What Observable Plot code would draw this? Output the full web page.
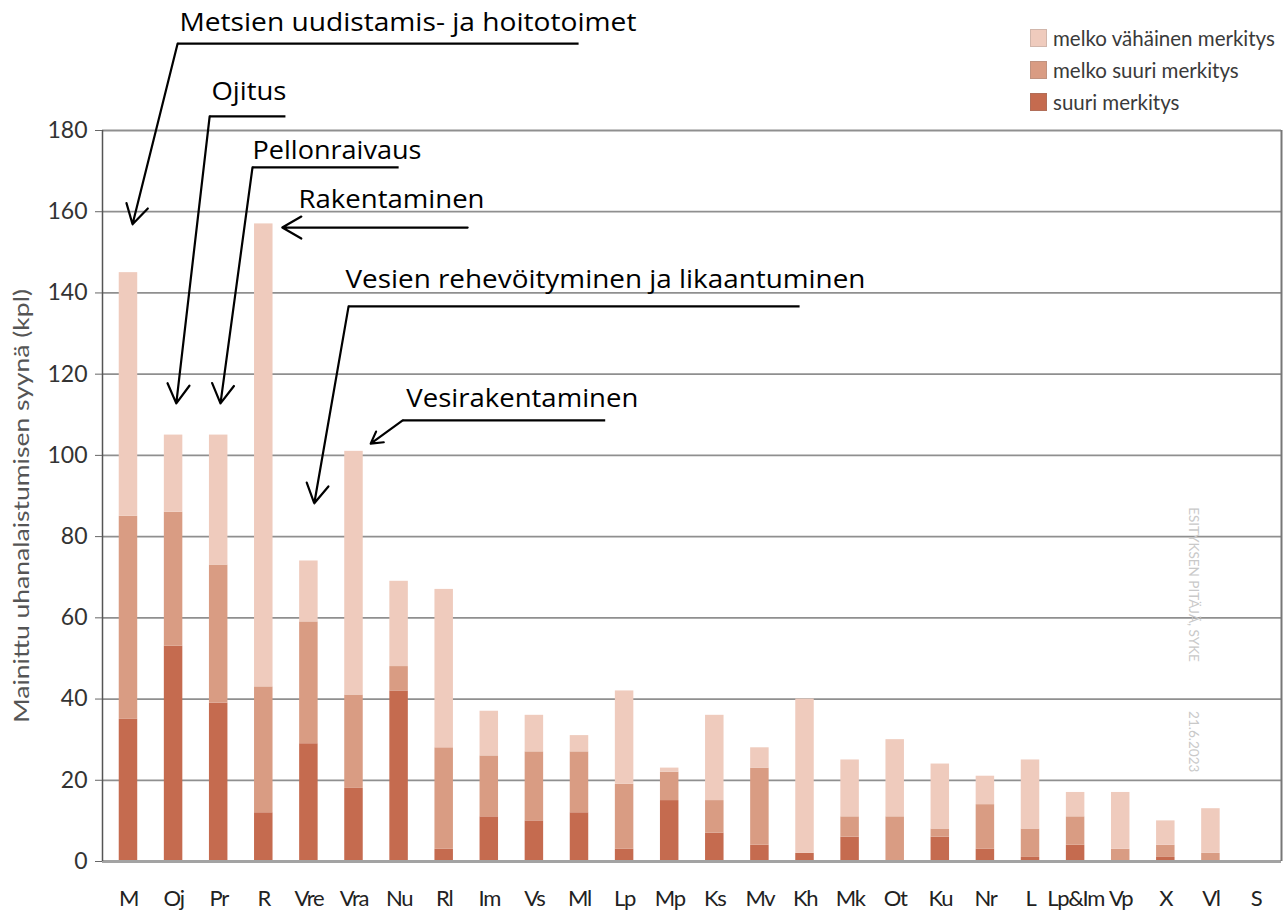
<!DOCTYPE html>
<html>
<head>
<meta charset="utf-8">
<script src="https://cdn.jsdelivr.net/npm/d3@7"></script>
<script src="https://cdn.jsdelivr.net/npm/@observablehq/plot@0.6"></script>
<style>
  body { margin: 0; background: #fff; }
  #wrap { position: relative; width: 1284px; height: 916px; overflow: hidden; }
  #legend { position: absolute; left: 1030px; top: 22px; font-family: Lato, "Open Sans", sans-serif; font-size: 20.5px; color: #3a3a3a; }
  #legend .item { display: flex; align-items: center; height: 32px; }
  #legend .sw { width: 17px; height: 18px; margin-right: 6px; box-sizing: border-box; border: 1px solid rgba(120,120,120,0.25); }
</style>
</head>
<body>
<div id="wrap"><div id="legend"></div></div>
<script>
// ---- data ----
const categories = ["M","Oj","Pr","R","Vre","Vra","Nu","Rl","Im","Vs","Ml","Lp","Mp","Ks","Mv","Kh","Mk","Ot","Ku","Nr","L","Lp&Im","Vp","X","Vl","S"];
const seriesNames = ["suuri merkitys", "melko suuri merkitys", "melko vähäinen merkitys"];
const suuri        = [35,53,39,12,29,18,42, 3,11,10,12, 3,15, 7, 4, 2, 6, 0, 6, 3, 1, 4, 0, 1, 0, 0];
const melkoSuuri   = [50,33,34,31,30,23, 6,25,15,17,15,16, 7, 8,19, 0, 5,11, 2,11, 7, 7, 3, 3, 2, 0];
const melkoVahainen= [60,19,32,114,15,60,21,39,11, 9, 4,23, 1,21, 5,38,14,19,16, 7,17, 6,14, 6,11, 0];
const yTicks = [0,20,40,60,80,100,120,140,160,180];
const legendOrder = ["melko vähäinen merkitys", "melko suuri merkitys", "suuri merkitys"];
const yLabel = "Mainittu uhanalaistumisen syynä (kpl)";
const annotationLabels = ["Metsien uudistamis- ja hoitotoimet","Ojitus","Pellonraivaus","Rakentaminen","Vesien rehevöityminen ja likaantuminen","Vesirakentaminen"];
const watermark = ["ESITYKSEN PITÄJÄ, SYKE", "21.6.2023"];

// ---- styles / layout ----
const colors = ["#c56b4f", "#d99c83", "#efcbbd"];
const xDomain = [-0.576, 25.565];
const half = 0.205;

const seriesValues = [suuri, melkoSuuri, melkoVahainen];
const rows = [];
categories.forEach((c, i) => {
  let acc = 0;
  seriesValues.forEach((vals, s) => {
    const v = vals[i];
    rows.push({cat: c, i, series: seriesNames[s], y1: acc, y2: acc + v});
    acc += v;
  });
});

// annotation layout (index units on x, value units on y)
const annLayout = [
  {t: [1.13, 204.6], w: 457, line: [1.09, 9.98, 201.4], tip: [0.09, 156.9]},
  {t: [1.84, 187.6], w: 75,  line: [1.80, 3.48, 183.5], tip: [1.06, 112.8]},
  {t: [2.75, 173.1], w: 169, line: [2.75, 5.99, 170.9], tip: [2.04, 112.8]},
  {t: [3.77, 161.0], w: 186, line: null,               tip: [3.41, 156.1], from: [7.52, 156.1]},
  {t: [4.81, 141.3], w: 520, line: [4.88, 14.88, 136.7], tip: [4.12, 88.2]},
  {t: [6.16, 111.8], w: 232, line: [6.08, 10.57, 108.6], tip: [5.37, 102.9]}
];
const anns = annotationLabels.map((label, k) => {
  const L = annLayout[k];
  return {
    label, tx: L.t[0], ty: L.t[1], w: L.w,
    hasLine: !!L.line,
    lx1: L.line ? L.line[0] : 0, lx2: L.line ? L.line[1] : 0, ly: L.line ? L.line[2] : 0,
    ax1: L.from ? L.from[0] : L.line[0], ay1: L.from ? L.from[1] : L.line[2],
    ax2: L.tip[0], ay2: L.tip[1]
  };
});
const wm = [{text: watermark[0], x: 23.61, y: 68.2}, {text: watermark[1], x: 23.61, y: 29.5}];

const plot = Plot.plot({
  width: 1284,
  height: 916,
  marginLeft: 102,
  marginRight: 3,
  marginTop: 130,
  marginBottom: 55,
  style: {fontFamily: "Lato, 'Open Sans', sans-serif", background: "white", overflow: "visible"},
  x: {domain: xDomain, axis: null},
  y: {domain: [0, 180], axis: null},
  color: {domain: seriesNames, range: colors},
  marks: [
    Plot.ruleY(yTicks, {stroke: "#8f8f8f", strokeWidth: 1.8}),
    Plot.rect(rows, {x1: d => d.i - half, x2: d => d.i + half, y1: "y1", y2: "y2", fill: "series"}),
    Plot.ruleY([0], {stroke: "#a3a3a3", strokeWidth: 3}),
    Plot.ruleX([xDomain[0]], {stroke: "#555", strokeWidth: 1.5}),
    Plot.ruleX([xDomain[1]], {stroke: "#777", strokeWidth: 2}),
    Plot.axisY(yTicks, {tickSize: 7, tickPadding: 8, fontSize: 23, stroke: "#666", fill: "#333", label: null}),
    Plot.axisX(d3.range(categories.length), {tickSize: 0, tickPadding: 29, fontSize: 22, fill: "#222", tickFormat: i => categories[i], label: null}),
    Plot.text([yLabel], {frameAnchor: "left", textAnchor: "middle", text: d => d, rotate: -90, dx: -80, dy: 10, fontSize: 21, fill: "#555"}),
    Plot.text(wm, {x: "x", y: "y", text: "text", rotate: 90, fontSize: 13.5, fill: "#c9c9c9"}),
    Plot.link(anns.filter(d => d.hasLine), {x1: "lx1", x2: "lx2", y1: "ly", y2: "ly", stroke: "black", strokeWidth: 2.2}),
    Plot.arrow(anns, {x1: "ax1", y1: "ay1", x2: "ax2", y2: "ay2", stroke: "black", strokeWidth: 2.2, headLength: 15, headAngle: 60}),
    Plot.text(anns, {x: "tx", y: "ty", text: "label", textAnchor: "start", lineAnchor: "bottom", fontSize: 25, fill: "black", fontFamily: "'Open Sans', sans-serif"})
  ]
});

// fit annotation and axis-label widths to the reference
const widthByLabel = new Map(anns.map(d => [d.label, d.w]));
widthByLabel.set(yLabel, 434);
const catSet = new Set(categories);
d3.select(plot).selectAll("text").each(function() {
  const t = this.textContent;
  if (widthByLabel.has(t)) {
    this.setAttribute("textLength", widthByLabel.get(t));
    this.setAttribute("lengthAdjust", "spacingAndGlyphs");
  } else if (catSet.has(t)) {
    this.setAttribute("letter-spacing", "-1.3");
  }
});

document.getElementById("wrap").prepend(plot);

// legend
const legend = d3.select("#legend");
legendOrder.forEach(name => {
  const it = legend.append("div").attr("class", "item");
  it.append("div").attr("class", "sw").style("background", colors[seriesNames.indexOf(name)]);
  it.append("span").text(name);
});
</script>
</body>
</html>
